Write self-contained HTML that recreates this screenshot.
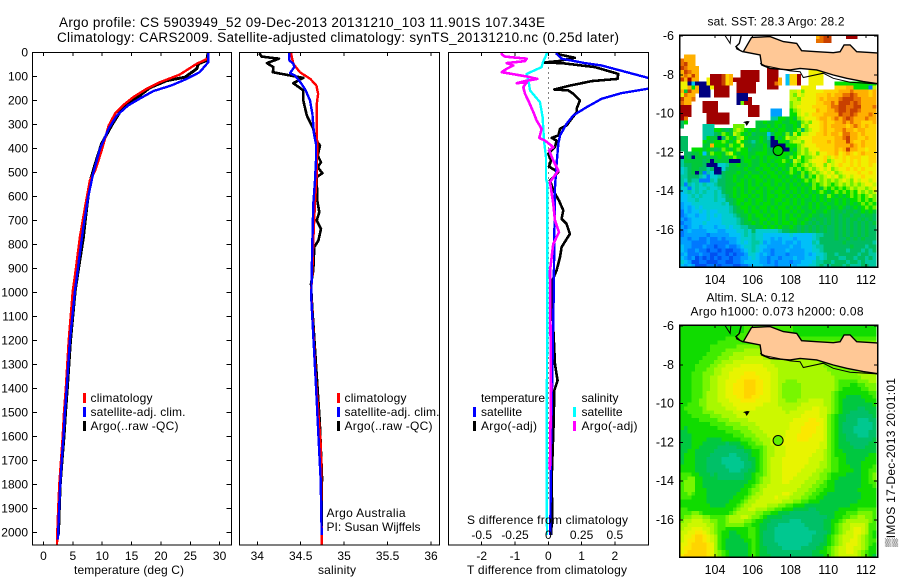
<!DOCTYPE html>
<html lang="en">
<head>
<meta charset="utf-8">
<title>Argo profile CS 5903949_52</title>
<style>
html,body{margin:0;padding:0;background:#fff;width:900px;height:580px;overflow:hidden}
svg{position:absolute;left:0;top:0;display:block}
text{font-family:"Liberation Sans",Arial,sans-serif;font-size:12px;fill:#000}
.ttl{font-size:13.5px}
.mt{font-size:12.5px}
</style>
</head>
<body>
<svg id="chart" xmlns="http://www.w3.org/2000/svg" width="900" height="580" viewBox="0 0 900 580">
  <defs>
    <clipPath id="clipT"><rect x="33" y="53" width="198" height="492"/></clipPath>
    <clipPath id="clipS"><rect x="240" y="53" width="199" height="492"/></clipPath>
    <clipPath id="clipD"><rect x="449" y="53" width="199" height="492"/></clipPath>
    <clipPath id="clipM1"><rect x="679" y="35" width="198" height="232"/></clipPath>
    <clipPath id="clipM2"><rect x="679" y="325" width="198" height="232"/></clipPath>
  </defs>

  <text class="ttl" x="59" y="27" textLength="486">Argo profile: CS 5903949_52 09-Dec-2013 20131210_103 11.901S 107.343E</text>
  <text class="ttl" x="57" y="42" textLength="562">Climatology: CARS2009. Satellite-adjusted climatology: synTS_20131210.nc (0.25d later)</text>

  <g id="sstMap" clip-path="url(#clipM1)" shape-rendering="crispEdges"></g>
  <g id="slaMap" clip-path="url(#clipM2)" shape-rendering="crispEdges"></g>
  <g id="overM1" clip-path="url(#clipM1)"></g>
  <g id="overM2" clip-path="url(#clipM2)"></g>

  <g id="plotT" clip-path="url(#clipT)" shape-rendering="crispEdges" fill="none"></g>
  <g id="plotS" clip-path="url(#clipS)" shape-rendering="crispEdges" fill="none"></g>
  <g id="plotD" clip-path="url(#clipD)" shape-rendering="crispEdges" fill="none"></g>

  <g id="frames" fill="none" stroke="#000" shape-rendering="crispEdges">
    <rect x="32.5" y="52.5" width="199" height="492.5" stroke-width="1"/>
    <rect x="239.5" y="52.5" width="200" height="492.5" stroke-width="1"/>
    <rect x="448.5" y="52.5" width="200" height="492.5" stroke-width="1"/>
    <rect x="679.5" y="35" width="198" height="232" stroke-width="1.5"/>
    <rect x="679.5" y="325" width="198" height="232" stroke-width="1.5"/>
  </g>
  <g id="ticks" stroke="#000" stroke-width="1" shape-rendering="crispEdges"></g>
  <g id="labels"></g>

  <text x="74" y="574" textLength="110">temperature (deg C)</text>
  <text x="318" y="574" textLength="38">salinity</text>
  <text x="467" y="574" textLength="160">T difference from climatology</text>
  <text x="467" y="524" textLength="161">S difference from climatology</text>

  <g>
    <rect x="83" y="393" width="3" height="10" fill="#f00"/>
    <rect x="83" y="407" width="3" height="10" fill="#00f"/>
    <rect x="83" y="421" width="3" height="10" fill="#000"/>
    <text x="90.5" y="402" textLength="62">climatology</text>
    <text x="90.5" y="416" textLength="95">satellite-adj. clim.</text>
    <text x="90.5" y="430" textLength="88">Argo(..raw -QC)</text>
  </g>
  <g>
    <rect x="337" y="393" width="3" height="10" fill="#f00"/>
    <rect x="337" y="407" width="3" height="10" fill="#00f"/>
    <rect x="337" y="421" width="3" height="10" fill="#000"/>
    <text x="344.5" y="402" textLength="62">climatology</text>
    <text x="344.5" y="416" textLength="95">satellite-adj. clim.</text>
    <text x="344.5" y="430" textLength="88">Argo(..raw -QC)</text>
  </g>
  <text x="326.5" y="517" textLength="79">Argo Australia</text>
  <text x="326.5" y="531" textLength="94">PI: Susan Wijffels</text>
  <g>
    <text x="481" y="402" textLength="64">temperature</text>
    <rect x="473" y="407" width="3" height="10" fill="#00f"/>
    <rect x="473" y="421" width="3" height="10" fill="#000"/>
    <text x="481" y="416" textLength="41">satellite</text>
    <text x="481" y="430" textLength="56">Argo(-adj)</text>
    <text x="581.5" y="402" textLength="37">salinity</text>
    <rect x="573" y="407" width="3" height="10" fill="#0ff"/>
    <rect x="573" y="421" width="3" height="10" fill="#f0f"/>
    <text x="581.5" y="416" textLength="41">satellite</text>
    <text x="581.5" y="430" textLength="56">Argo(-adj)</text>
  </g>

  <text x="707.5" y="25.5" textLength="137">sat. SST: 28.3 Argo: 28.2</text>
  <text x="706.5" y="301.5" textLength="88">Altim. SLA: 0.12</text>
  <text x="690.5" y="315.5" textLength="173">Argo h1000: 0.073 h2000: 0.08</text>
  <text transform="translate(895,547) rotate(-90)" x="0" y="0" textLength="169" style="font-family:'Liberation Sans','DejaVu Sans',sans-serif">▒IMOS 17-Dec-2013 20:01:01</text>
</svg>

<script>
// ---------- temperature profile (deg C vs depth m) ----------
const climTempDepth = [0,25,47,92,124,151,186,219,254,304,409,492,533,645,769,922,992,1200,1400,1500,1600,1700,1800,1900,2000,2050];
const climTempValue = [28.1,28,26.1,23.2,19.8,17.6,15.3,13.6,12.2,11.1,9.9,8.8,7.9,7.07,6.2,5.4,5,4.3,3.8,3.5,3.27,2.98,2.7,2.5,2.35,2.3];
const satTempDepth = [0,6,40,82,110,137,161,192,221,262,317,402,505,603,727,880,992,1200,1400,1500,1600,1700,1800,1900,2000,2030];
const satTempValue = [28.1,28.1,28.1,26.6,24.4,21.8,18.7,16.4,14.4,12.5,11.1,9.6,8.45,7.6,6.8,5.97,5.37,4.5,3.95,3.65,3.4,3.1,2.85,2.65,2.5,2.45];
const argoTempDepth = [3,6,33,47,68,103,117,147,179,200,249,304,380,464,540,672,770,895,992,1200,1400,1500,1600,1700,1800,1900,2000,2010];
const argoTempValue = [28,28,27.8,26.4,26.1,24.1,21,18.1,16.4,15,13,11.6,9.9,8.8,7.9,7.24,6.8,6,5.4,4.6,4.05,3.75,3.5,3.15,2.85,2.7,2.55,2.5];

// ---------- salinity profile ----------
const climSalDepth = [0,6,47,82,110,138,172,214,311,394,506,617,783,908,1000,1367,1650,2000,2050];
const climSalValue = [34.39,34.39,34.415,34.49,34.61,34.68,34.7,34.685,34.685,34.69,34.685,34.665,34.645,34.635,34.62,34.676,34.733,34.74,34.74];
const satSalDepth = [0,6,33,47,61,86,96,131,158,200,256,339,381,450,533,631,783,922,1026,1367,1450,1644,1783,1992,2010];
const satSalValue = [34.37,34.37,34.37,34.415,34.426,34.377,34.434,34.51,34.557,34.607,34.634,34.653,34.676,34.676,34.664,34.645,34.634,34.626,34.622,34.672,34.684,34.71,34.73,34.74,34.74];
const argoSalDepth = [3,6,17,26,44,61,82,89,106,128,158,200,262,318,360,388,429,457,478,503,519,617,665,700,735,783,811,908,964,1026,1408,1533,1769,1950,2010];
const argoSalValue = [34.02,34.03,34.05,34.25,34.11,34.185,34.18,34.28,34.53,34.415,34.53,34.53,34.57,34.645,34.665,34.722,34.695,34.733,34.695,34.749,34.684,34.691,34.714,34.684,34.733,34.703,34.656,34.645,34.618,34.626,34.695,34.718,34.745,34.74,34.74];

// ---------- differences from climatology ----------
const satTDiffDepth = [0,6,26,44,54,106,128,151,169,193,228,262,297,346,381,464,561,783,1033,1644,2010];
const satTDiffValue = [0.25,0.25,0.4,1.1,1.6,3,3.8,3,2.2,1.6,1.15,0.75,0.55,0.35,0.3,0.25,0.2,0.18,0.16,0.08,0.06];
const argoTDiffDepth = [3,6,22,36,42,44,61,89,110,119,131,138,154,158,172,200,235,249,276,304,318,346,356,367,394,422,450,475,499,533,575,617,658,693,714,756,811,853,908,950,1026,1150,1300,1367,1408,1547,1783,1922,2010];
const argoTDiffValue = [0.25,0.25,0.8,0.3,-0.15,0.4,1.4,2.1,2.08,1.3,0.9,0.65,0.18,0.6,0.75,0.95,0.85,0.85,0.7,0.55,0.35,0.3,0.1,0.25,0.2,0,0.08,0.02,0.3,0.05,0.15,0.32,0.45,0.4,0.55,0.65,0.4,0.35,0.25,0.12,0.12,0.15,0.2,0.28,0.18,0.16,0.1,0.12,0.08];
const satSDiffDepth = [0,6,40,61,89,131,158,207,269,367,436,526,547,1033,1700,2010];
const satSDiffValue = [-0.012,-0.012,-0.04,-0.05,-0.1625,-0.145,-0.1375,-0.0625,-0.0425,-0.0325,-0.0175,-0.0175,-0.0075,-0.0075,-0.0125,-0.01];
const argoSDiffDepth = [3,8,17,26,36,44,54,68,82,89,100,110,119,128,124,144,172,200,248,283,318,356,367,394,408,450,492,540,631,700,749,797,908,1400,1740];
const argoSDiffValue = [-0.35,-0.35,-0.325,-0.1625,-0.175,-0.3125,-0.2625,-0.3125,-0.35,-0.275,-0.1625,-0.0825,-0.175,-0.2375,-0.1625,-0.1875,-0.175,-0.15,-0.1125,-0.0875,-0.05,-0.0675,-0.025,0.0375,0.005,0.0375,0.075,0.0125,0.0375,0.05,0.08,0.0375,0.0125,0.02,0.012];

// ---------- tick values ----------
const depthTicks = [0,100,200,300,400,500,600,700,800,900,1000,1100,1200,1300,1400,1500,1600,1700,1800,1900,2000];
const tempTicks = [0,5,10,15,20,25,30];
const salTicks = [34,34.5,35,35.5,36];
const tDiffTicks = [-2,-1,0,1,2];
const sDiffTicks = [-0.5,-0.25,0,0.25,0.5];
const lonTicks = [104,106,108,110,112];
const latTicks = [-6,-8,-10,-12,-14,-16];

// ---------- coast / marker (lon, lat) ----------
const landLon = [105.94,106.92,107.62,108.33,108.59,109.39,110.27,110.63,110.84,111.16,111.51,112.9,112.9,111.86,110.98,110.27,109.39,108.51,107.98,106.92,106.47,106.39,105.5,105.94];
const landLat = [-6.07,-6.03,-6.29,-6.38,-6.76,-6.81,-6.86,-6.81,-6.46,-6.46,-6.81,-6.89,-8.5,-8.35,-8.18,-8.01,-7.75,-7.67,-7.75,-7.67,-7.49,-6.98,-6.81,-6.07];
const sumatraWestLon = [104.48,104.8,104.85];
const sumatraWestLat = [-5.9,-6.38,-5.9];
const sumatraEastLon = [105.41,105.29,105.11,105.3,105.12,105.47];
const sumatraEastLat = [-5.9,-6.38,-6.55,-6.72,-6.64,-6.81];
const shelfLon = [106.39,106.65,107.98,108.51,108.68,109.74,110.27,111.16,112.9];
const shelfLat = [-7.41,-7.53,-7.8,-7.84,-8.14,-7.92,-8.18,-8.38,-8.49];
const islandLon = [105.55,105.7,105.8,105.68,105.6,105.7];
const islandLat = [-10.45,-10.4,-10.42,-10.6,-10.45,-10.5];
const profileLon = 107.343;
const profileLat = -11.901;

// ---------- SST field, one colour-class code per 0.2 deg cell ----------
const sstRows = [
".......... .......... .......... ......Odrr ....RRR... ..",
".......... .......... .......... ......ddrr .......... ..",
".......... .......... .......... .......... .......... ..",
".......... .......... .......... .......... .......... ..",
".......... .......... .......... .......... .......... ..",
".OOO...... .......... .......... .......... .......... ..",
"dOOO...... .......... .......... .......... .......... ..",
"drOO...... .......... .......... .......... .......... ..",
"rdOOO..... .......... ...RRR.... .......... .......... ..",
"OrdOO..... ......RRRR R..RRR.... ....YYYY.. .......... ..",
"OdOrO...RR RroO..RRRR R..RRR..so oR..YYYY.. .......... ..",
"rOROO..YRR RroORRRRRR R..RRRO.so oR..YYYY.. .......... ..",
"YYnsnnnYRR RroO.RRRRR ...RRdO.so oR..YYYY.. .hhhhhhhhh hh",
"YYOhOnnnYR RRR..RRRRR ...RRR.... ..YYYY.... .oooOOhhhh by",
"OGrOOnnn.R RRR..RRRRR .........y yYLYYYYYoo ooOOOdOOOO oO",
"YdOO.nnn.R RRR..nnn.. .........y LYyYYYoooO oOOddrdOOO oO",
"rOOd...... .....nnnR. .........y yLYYYYoOoO OOdrrrddOO OO",
"dOO...RRRR .....nLRR. .........L yyYYYYooOO dOrrrdrdOO OO",
"RRR...RRRR ........RR R........L yYYYYooooO ddrrddrrOO Od",
"RRR...RRRR ........RR R...aaa..h LyYYYYOooO OdrrdrrdOO OO",
"RRR....RRR RRR.....RR R...aaa..h hyYyYoooOO OOrddrdOOO dO",
"Rd.....RRR RRR....... ....tthhGh GLyYYYoOOo OdOdrdOOOd OO",
"gh.....RRR RRR....... GGhGGhhGGh hGLyLYYoOo oOOdOdOOoo oO",
"g.....ttt. ....LLL... GGGhGhGhGG hGyLYYYoOo OOOOoOdOoO oo",
"......ttth hGgGLyLhGh GhhGhGhhGG hLgLyYYoOo oOOdOOoOOo oo",
"......tttg GLhGyLhGhg GGGsghhGLG yhyyYYooOo OOoddOOoOo oo",
"gg....thGG ngLhGLyhGG GhGtnhGhyL LyYYYooooo oOOdrOOooO oo",
"gg....hGGh hLhGhyhGgt GhGgnnhhGL yyLYYooooO oOOOrOooOo oo",
"gg....GGOh hhGLhhyGGg GGhgnnnnhh hLyYYYoooo oOOOOdOoOo oo",
"gg.hhhGhGg GLhGhLhhgG GGhGgtnnnh GLyLYYYooo oOoOrOOooY oo",
".ggGGhsGLh hGLyhGhhGG hhhGGhhhhG hLyLyYLYYo oOYoOoYoOo oo",
"nGgnGGGgGG hGGhLhGhGh GhGhhGhhGL hyhLLyYYoy YoYoYoooYY oo",
"tGGGGGgGnG GGGnnnGhhG GhGhGhhLhG yLhLyYYYoL yYYoYoYoYY oo",
"tggGGGgnnn cctGGhGGhG GhhGhGhhGh LhLyLyYYLY yYoYYoYoYY oY",
"ctgGGggtgn ncgGGGGhGG hGhhGhGhGL hLhLyLyYyY LyYYoYoYoY YY",
"ctgGngbtcn ngGGGhGGhG GhGhhGhGhL hGLhLyLyYy YLyYYYYoYY oY",
"ttgggtcbcc tgGGhGGhGh hGhGhhGhGh GhLGLhyLyY yYLyYyYYoY YY",
"tcgttbbbtc ggGGhGhGhG hhGhGhhGhG hGhLhLyLyL yLyYyLYyYY yY",
"tbtctctcct ggGGGhhGhG hGhhGhGhGh GhGhGLhLyL hLyLyLyLyY Yy",
"ccbctcctcc tgGGhGhGhh GhGhhGhhGh hGhGhLhGLh LhLhLyLyyL yY",
"sctctctcct cgGGhGhGhG hhGhGhhGhG hGhGhGhLhG hLhLhLhyLy Ly",
"ssctctccct ctgGhGhhGh GhGhhGhhGh GhGhGhGhGL hGhGhLhLhL yL",
"sscctcccct ccggGhhGhG hhGhGhhGhG hGhGGhGhGh GhGhGhhLhL hL",
"assccccccc ctcgGhGhhG hGhhGhGhhG hGhGhGhGhG GhGhGhGhLh Lh",
"asascscccc ccctgGhhGh GhhGhGhhGh GhGGhGhGGh GGhGgGhGhL hL",
"bsasscscss ccctgGGhGh hGhGhhGhhG hGhGGhGGhG gGGgGGgGhG hG",
"bassasscsc sccctgGGhG hhGhGhGhGh GhGGhGGgGG gGgGGgGGgG Gg",
"abasssscss scccctgGhG GhhGhhGhGh hGGhGgGGgG gGgGgGGgGg Gg",
"baassscsss scccctgGGh GhGhGhGhhG hGhGgGgGgG gGgGgGgGgG gG",
"abassasssa sscsccttgg GGhGhGhGGh GgGgGgGgGg gGgGgGgGgG gg",
"basaaaasss aassscctcg cccccctggG GgGgGgGgGg gGgGgGgGgG gg",
"baaaaaabaa aaasssctct ccsssssssc ssssscttgg gGgGgGgGgG gg",
"aabaabbabb abaaasccct ccssasasss assssctggg gGggGgGgGg gg",
"aaabbbbabb bbbaascsct tcasaaasaa sassstcggg gggGgggggg gt",
"saabbbabbB bbabbascct cssaaaaaas aassscttgg gggggGgggt gg",
"sabbabbBbb BbBBbbasct csaabaaasa aaasscctgg ggggtgggtg tg",
"asbbbabbBB bbBbBbbacc sasabaaaba aaasascctg gtgggggtgg tt",
"sabaBbBbBb BbbBbbaasc saabaabaaa saassstctg ggttggtggt gt",
"csaBBbbBBB bbBBbbasss saababaaab aassscttgg tgggtggtgt tt",
"sasaBBBbbb BbbbBBbbas ssaaabaaas assscctgtt gggtgtttgg tt"
];
const sstColors = {n:"#000080",B:"#0050f0",b:"#0078ff",a:"#00a0ff",s:"#00c0f8",c:"#00ccd0",t:"#00c8a0",g:"#00bc60",G:"#00c838",h:"#00e000",L:"#70f000",y:"#c0f800",Y:"#f0f000",o:"#ffd400",O:"#ffb000",d:"#e87000",r:"#c84000",R:"#a00000"};

// ---------- sea-level anomaly field, one colour-class code per 0.2 deg cell ----------
const slaRows = [
"hhhhhhhhhh hhhhhhhiii iiiiiiiiii hhhhhhhhhh hhhhhhhhhh hh",
"hhhhhhhhhh hhhhhhhiii iiiiiiiiii hhhhhhhhhh hhhhhhhhhh hh",
"hhhhhhhhhh hhhhhiiiii iiiiiiiiii hhhhhhhhhh hhhhhhhhhh hh",
"hhhhhhhhhh hhiiiiiiii iiiiiiiiii iiiiiiiiii iiiiiiiiii ii",
"hhhhhhhhhh iiiiiiiiii iiiiilllll llllllllll llllllllll ll",
"hhhhhhhhii iiiiilllll llllllllll llllllllll llllllllll ll",
"hhhhhhhhii iilllllmmm mmlllllmmm mmmlllllll llllllllll ll",
"hhhhhhhiii illlmmmmmm mmmmmmmmmm mmmmmlllll llllllllll ll",
"hhhhhhiiii lllmmmmyyy yymmmmmmmm mmmmmmllll llllllllll ll",
"hhhhhiiiil lmmmyyyyyy yyyymmmmmm mmmmmmmlll llllllllll ll",
"hhhhiiiill mmyyyyYYYY YYyyymmmmm mmmmmmmmll llllllllll ll",
"hhhhiiillm myyyYYYYYY YYYyyymmmm mmmmmmmmml lllllllmmm mm",
"hhhiiilllm myyYYYYooo YYYYyymmmm mmmmmmmmmm lllllllmmm mm",
"hhhiiillmm yyyYYYoooo oYYYyymmmm mmmmmmmmmm mlllllllmm mm",
"hhhiiillmm yyYYYooOOO ooYYyymmll lmmmmmmmmm mliiiiilll mm",
"hhhiiillmm yyYYoooOOO ooYYyymlll llmmmmmmmm mliiihhiil ll",
"hhhiiillmm yyYYoooOOO ooYYyymlll llmmmmmmmm mlihhhhhii ll",
"hhhiiilmmm yyYYoooOOO ooYYyymlll llmmmmmmmm lihhhhhhhh ii",
"hhhiiilmmm yyYYYooOOo oYYYyymlll llmmmmmmmm lihhgggghh hi",
"hhhiillmmm yyyYYYoooo YYYYyymmll lmmmyyyymm lihggggggh hh",
"hhiiillmmm myyyYYYYYY YYyyyymmmm mmyyyyyymm lihggggggg gh",
"hiiiiilmmm mmyyyYYYYY yyyyyyymmm myyyyYYyym lihgggguug gg",
"hhiiiilllm mmmmyyyyyy yyyyyyyymy yyyYYYYyym lihgguuuuu gg",
"hhhiiiiill lmmmmyyyyy yyyyyyyyyy yyYYYYYyyl ihgguuuuuu ug",
"hhhhhiiiii lllmmmmmyy yyyyyyyyyy YYYYooYYyl ihgguuuttt uu",
"hhhhhhhhii iillllmmmm yyyyyyyyyY YYYooooYyl ihguuuuttt tu",
"hghhhhhhhh iiiillllmm myyyyyyyyY YYooooYYyl ihguuutttt tu",
"gghhhhhhhh hhiiiilllm mmyyyyyyYY YYooooYYyl ihguuutttt uu",
"ggghhhhhhh hhhhiiilll mmmyyyyyYY YooooYYYyl ihgguuuttt uu",
"ggghhhhggg ghhhhhiiil lmmmyyyYYY YoooYYYYyl ihgguuuuuu ug",
"ggghhhgggg gguggghhii llmmyyyYYY YYYYYYYyyl ihggguuuuu gg",
"ggghhggggg uuuuugghhi iilmmyyyYY YYYYYYYyyl ihgggguuug gg",
"gghhgggggu uuuuuuuggh hilmmyyyYY YYYYYYyyml ihhggggggg gg",
"ghhhgggguu uuuttuuugh hilmmyyyYY YYYYYyyyml ihhhgggggg hh",
"ghhhggguuu utttttuugg hilmyyyYYY YYYYyyyyml iihhgggggh hh",
"ghhhggguuu uttttttuug hilmyyyYYY YYYYyyymml iihhgggghh hh",
"hhhhggguuu uutttttuug hilmyyyYYY YYYyyyymml iihhhggghh hi",
"hhhhggguuu uuutttuugg hilmyyyYYY YYyyyymmll iihhhhgghh ii",
"iiihhgggug uuuuuuuggh iilmyyyYYY Yyyyymmlli hhhhgggghh il",
"iillhhgggg uuuuuuuggh ilmmyyyYYY yyyymmmlli hhgggggghh il",
"illlhhgggg gggggggghh ilmmyyyYYy yyymmmllih hggggggghh ii",
"illlhhgggg ggggggghhi lmmyyyyyyy yymmmlliih hggggggghh hi",
"illlhhhggg gggggghhil lmyyyyyyyy ymmmlliihh hgggggghhh hh",
"iilihhhggg ggggghhhil mmyyyyyYYy mmmlliihhg gggggggghh hh",
"iiihhhhggg gggghhhilm myyyyYyyym mmlliihhgg gggggggghh hh",
"hhhhhhhggg ggghhhilmm yyyyyyymmm lliihhhggg ggggggghhh hh",
"hhhhhhhhgg gghhhilmmy yyymmmllii hhhggggggg ggggghhhhh hh",
"iihhhhhhhh hhhhilmmyy mmmlliihhh gggguugggg gghhhhhiii ii",
"iiillihhhh hhhilmmmmm lliihhgggu uuuuuuuggg ghhhiiilll li",
"illmmmllii iilmmmyyml lihgggguuu uuuuuuuuug ghhiillmml li",
"lmmyyymmll iilmmmmlli hhgguuuuut ttuuuuuugg hhilmmmmmm li",
"mmyyyyymml iillllliih hgguuutttt tttuuuuugg hilmmyyyym ii",
"myyYYYyyml iihhhhhhii hgguuttttt ttttuuuugg hilmmyYYym ii",
"yyYYooYyml ihhgghhhii hguuuttttt ttttttuuug hilmyyYYym ih",
"yYYoOOoYym ihhggghhii hguuuttttt tttttuuugh ilmyyyYyml ih",
"yYooOOoYym ihggggghhi hguuuttttt tttttuuugh ilmyyYYyml ii",
"YYoOOOOoYm ihgggggghi hguuuutttt ttttuuuggh ilmyYYYyml ih",
"YooOOOOoYm ihgggggghi hgguuuuttt ttuuuugghi lmyyYYyyml hh",
"YoOOOOOoYm lihggggghi hgguuuuuuu uuuuugghhi lmyyYYymli hh",
"oOOOOOOoYm lihggggghi hggguuuuuu uuuuuggghi lmyyyyymli hg"
];
const slaColors = {t:"#00c890",u:"#00c068",g:"#00c840",h:"#10dc00",i:"#40ec00",l:"#78f600",m:"#a8f800",y:"#ccf800",Y:"#e8f400",o:"#fbe800",O:"#ffd400"};

// ---------- axis functions ----------
const SVGNS = "http://www.w3.org/2000/svg";
function yDepth(d){ return 52.5 + 0.24 * d; }
function xTemp(t){ return 43.5 + 5.87 * t; }
function xSal(s){ return 257.3 + 86.85 * (s - 34); }
function xTDiff(v){ return 548.3 + 33.3 * v; }
function xSDiff(v){ return 548.3 + 133.2 * v; }
function xLon(lon){ return 715 + 18.87 * (lon - 104); }
function yLatSst(lat){ return 36 + 19.4 * (-6 - lat); }
function yLatSla(lat){ return 326 + 19.4 * (-6 - lat); }

function drawSeries(groupId, name, depths, values, xFn, color, width){
  const line = document.createElementNS(SVGNS, "polyline");
  
  
  line.setAttribute("points", depths.map(function(d, i){ return xFn(values[i]).toFixed(1) + "," + yDepth(d).toFixed(1); }).join(" "));
  line.setAttribute("stroke", color);
  line.setAttribute("stroke-width", width);
  line.setAttribute("stroke-linejoin", "round");
  line.setAttribute("fill", "none");
  document.getElementById(groupId).appendChild(line);
}

drawSeries("plotT", "temperature-argo-line", argoTempDepth, argoTempValue, xTemp, "#000", 3);
drawSeries("plotT", "temperature-climatology-line", climTempDepth, climTempValue, xTemp, "#f00", 2.4);
drawSeries("plotT", "temperature-satellite-line", satTempDepth, satTempValue, xTemp, "#00f", 2.4);

drawSeries("plotS", "salinity-argo-line", argoSalDepth, argoSalValue, xSal, "#000", 2.6);
drawSeries("plotS", "salinity-climatology-line", climSalDepth, climSalValue, xSal, "#f00", 2.4);
drawSeries("plotS", "salinity-satellite-line", satSalDepth, satSalValue, xSal, "#00f", 2.4);

(function(){
  const zero = document.createElementNS(SVGNS, "line");
  
  
  zero.setAttribute("x1", xTDiff(0));
  zero.setAttribute("x2", xTDiff(0));
  zero.setAttribute("y1", yDepth(0));
  zero.setAttribute("y2", yDepth(1870));
  zero.setAttribute("stroke", "#000");
  zero.setAttribute("stroke-width", "1");
  zero.setAttribute("stroke-dasharray", "1 4");
  document.getElementById("plotD").appendChild(zero);
})();
drawSeries("plotD", "t-difference-argo-line", argoTDiffDepth, argoTDiffValue, xTDiff, "#000", 2.6);
drawSeries("plotD", "t-difference-satellite-line", satTDiffDepth, satTDiffValue, xTDiff, "#00f", 2.4);
drawSeries("plotD", "s-difference-satellite-line", satSDiffDepth, satSDiffValue, xSDiff, "#0ff", 2.4);
drawSeries("plotD", "s-difference-argo-line", argoSDiffDepth, argoSDiffValue, xSDiff, "#f0f", 2.6);

// ---------- heatmaps ----------
function drawField(groupId, name, rows, colors, yTop){
  const group = document.getElementById(groupId);
  const cellW = 0.2 * 18.87, cellH = 0.2 * 19.4, left = 680;
  rows.forEach(function(row, r){
    const codes = row.replace(/ /g, "");
    for (let c = 0; c < codes.length; c++){
      if (!colors[codes[c]]) continue;
      const cell = document.createElementNS(SVGNS, "rect");
      
      
      cell.setAttribute("x", (left + c * cellW).toFixed(2));
      cell.setAttribute("y", (yTop + r * cellH).toFixed(2));
      cell.setAttribute("width", (cellW + 0.3).toFixed(2));
      cell.setAttribute("height", (cellH + 0.3).toFixed(2));
      cell.setAttribute("fill", colors[codes[c]]);
      group.appendChild(cell);
    }
  });
}
drawField("sstMap", "sst-cell", sstRows, sstColors, 35);
drawField("slaMap", "sla-cell", slaRows, slaColors, 325);

// ---------- coast and marker ----------
function coastPoints(lons, lats, yFn){
  return lons.map(function(lon, i){ return xLon(lon).toFixed(1) + "," + yFn(lats[i]).toFixed(1); }).join(" ");
}
function drawOverlay(groupId, yFn, markerFill){
  const group = document.getElementById(groupId);

  const land = document.createElementNS(SVGNS, "polygon");
  
  
  land.setAttribute("points", coastPoints(landLon, landLat, yFn));
  land.setAttribute("fill", "#ffc896");
  land.setAttribute("stroke", "#000");
  land.setAttribute("stroke-width", "1.4");
  group.appendChild(land);

  const west = document.createElementNS(SVGNS, "polyline");
  
  
  west.setAttribute("points", coastPoints(sumatraWestLon, sumatraWestLat, yFn));
  west.setAttribute("fill", "none");
  west.setAttribute("stroke", "#000");
  west.setAttribute("stroke-width", "1");
  group.appendChild(west);

  const east = document.createElementNS(SVGNS, "polyline");
  
  
  east.setAttribute("points", coastPoints(sumatraEastLon, sumatraEastLat, yFn));
  east.setAttribute("fill", "none");
  east.setAttribute("stroke", "#000");
  east.setAttribute("stroke-width", "1.4");
  group.appendChild(east);

  const shelf = document.createElementNS(SVGNS, "polyline");
  
  
  shelf.setAttribute("points", coastPoints(shelfLon, shelfLat, yFn));
  shelf.setAttribute("fill", "none");
  shelf.setAttribute("stroke", "#000");
  shelf.setAttribute("stroke-width", "1");
  group.appendChild(shelf);

  const island = document.createElementNS(SVGNS, "polygon");
  
  
  island.setAttribute("points", coastPoints(islandLon, islandLat, yFn));
  island.setAttribute("fill", "#000");
  island.setAttribute("stroke", "#000");
  island.setAttribute("stroke-width", "0.8");
  group.appendChild(island);

  const marker = document.createElementNS(SVGNS, "circle");
  
  
  marker.setAttribute("cx", xLon(profileLon).toFixed(1));
  marker.setAttribute("cy", yFn(profileLat).toFixed(1));
  marker.setAttribute("r", "5");
  marker.setAttribute("fill", markerFill);
  marker.setAttribute("stroke", "#000");
  marker.setAttribute("stroke-width", "1");
  group.appendChild(marker);
}
drawOverlay("overM1", yLatSst, "#00d000");
drawOverlay("overM2", yLatSla, "#60f000");

// ---------- ticks and labels ----------
function addTick(x1, y1, x2, y2, name){
  const tick = document.createElementNS(SVGNS, "line");
  
  
  tick.setAttribute("x1", x1.toFixed(1));
  tick.setAttribute("y1", y1.toFixed(1));
  tick.setAttribute("x2", x2.toFixed(1));
  tick.setAttribute("y2", y2.toFixed(1));
  document.getElementById("ticks").appendChild(tick);
}
function addLabel(x, y, txt, anchor, cls, name){
  const label = document.createElementNS(SVGNS, "text");
  
  
  label.setAttribute("x", x.toFixed(1));
  label.setAttribute("y", y.toFixed(1));
  label.setAttribute("text-anchor", anchor);
  if (cls) label.setAttribute("class", cls);
  label.textContent = String(txt);
  document.getElementById("labels").appendChild(label);
}

depthTicks.forEach(function(d){
  const y = yDepth(d);
  addTick(32.5, y, 37, y, "depth-tick");
  addTick(231.5, y, 226.5, y, "depth-tick");
  addLabel(28, y + 4, d, "end", "", "depth-tick-label");
});
tempTicks.forEach(function(t){
  const x = xTemp(t);
  addTick(x, 52.5, x, 56, "temperature-tick");
  addTick(x, 545, x, 541.5, "temperature-tick");
  addLabel(x, 560, t, "middle", "", "temperature-tick-label");
});
salTicks.forEach(function(s){
  const x = xSal(s);
  addTick(x, 52.5, x, 56, "salinity-tick");
  addTick(x, 545, x, 541.5, "salinity-tick");
  addLabel(x, 560, s, "middle", "", "salinity-tick-label");
});
tDiffTicks.forEach(function(v){
  const x = xTDiff(v);
  addTick(x, 52.5, x, 56, "t-difference-tick");
  addTick(x, 545, x, 541.5, "t-difference-tick");
  addLabel(x, 560, v, "middle", "", "t-difference-tick-label");
});
sDiffTicks.forEach(function(v){
  addLabel(xSDiff(v), 539, v, "middle", "", "s-difference-tick-label");
});
lonTicks.forEach(function(lon){
  const x = xLon(lon);
  addTick(x, 35, x, 38, "sst-longitude-tick");
  addTick(x, 267, x, 264, "sst-longitude-tick");
  addTick(x, 325, x, 328, "sla-longitude-tick");
  addTick(x, 557, x, 554, "sla-longitude-tick");
  addLabel(x, 284, lon, "middle", "mt", "sst-longitude-label");
  addLabel(x, 574, lon, "middle", "mt", "sla-longitude-label");
});
latTicks.forEach(function(lat){
  const y1 = yLatSst(lat), y2 = yLatSla(lat);
  addTick(679.5, y1, 683, y1, "sst-latitude-tick");
  addTick(877.5, y1, 874, y1, "sst-latitude-tick");
  addTick(679.5, y2, 683, y2, "sla-latitude-tick");
  addTick(877.5, y2, 874, y2, "sla-latitude-tick");
  addLabel(674, y1 + 4, lat, "end", "mt", "sst-latitude-label");
  addLabel(674, y2 + 4, lat, "end", "mt", "sla-latitude-label");
});
</script>
</body>
</html>
